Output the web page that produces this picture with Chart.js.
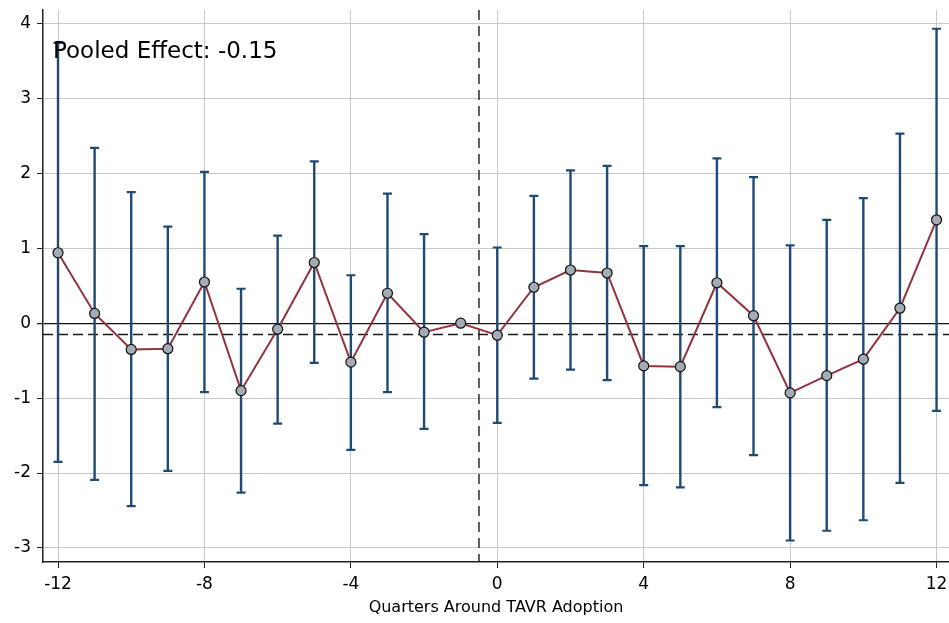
<!DOCTYPE html>
<html>
<head>
<meta charset="utf-8">
<script src="https://cdn.jsdelivr.net/npm/chart.js@4"></script>
<style>
  html, body { margin: 0; padding: 0; background: #fff; }
  #wrap { width: 949px; height: 623px; }
</style>
</head>
<body>
<div id="wrap"><canvas id="eventChart"></canvas></div>
<script>
// Quarters relative to adoption
const quarters = [-12, -11, -10, -9, -8, -7, -6, -5, -4, -3, -2, -1, 0, 1, 2, 3, 4, 5, 6, 7, 8, 9, 10, 11, 12];
// Point estimates
const estimates = [0.94, 0.13, -0.35, -0.34, 0.55, -0.90, -0.08, 0.81, -0.52, 0.40, -0.12, 0.00, -0.16,
                   0.48, 0.71, 0.67, -0.57, -0.58, 0.54, 0.10, -0.93, -0.70, -0.48, 0.20, 1.38];
// Confidence interval bounds (null = reference quarter)
const upperCI = [3.74, 2.34, 1.75, 1.29, 2.02, 0.46, 1.17, 2.16, 0.64, 1.73, 1.19, null, 1.01,
                 1.70, 2.04, 2.10, 1.03, 1.03, 2.20, 1.95, 1.04, 1.38, 1.67, 2.53, 3.93];
const lowerCI = [-1.85, -2.09, -2.44, -1.97, -0.92, -2.26, -1.34, -0.53, -1.69, -0.92, -1.41, null, -1.33,
                 -0.74, -0.62, -0.76, -2.16, -2.19, -1.12, -1.76, -2.90, -2.77, -2.63, -2.13, -1.17];
// Axis ticks
const xTicks = [-12, -8, -4, 0, 4, 8, 12];
const yTicks = [-3, -2, -1, 0, 1, 2, 3, 4];
// Reference lines
const pooledEffect = -0.15;
const adoptionLine = -0.5;

const FONT = "'DejaVu Sans', sans-serif";

// Error bars + dashed reference lines, drawn behind the series
const errorBarPlugin = {
    id: "errorBars",
    beforeDatasetsDraw(chart) {
        const ctx = chart.ctx;
        const xs = chart.scales.x;
        const ys = chart.scales.y;
        const area = chart.chartArea;
        ctx.save();
        ctx.beginPath();
        ctx.rect(area.left, area.top, area.right - area.left, area.bottom - area.top);
        ctx.clip();

        // dashed pooled-effect line
        ctx.strokeStyle = "#1a1a1a";
        ctx.lineWidth = 1.4;
        ctx.setLineDash([10, 5]);
        ctx.beginPath();
        const py = ys.getPixelForValue(pooledEffect);
        ctx.moveTo(area.left, py);
        ctx.lineTo(area.right, py);
        ctx.stroke();

        // dashed adoption line
        ctx.setLineDash([10, 6]);
        ctx.beginPath();
        const px = xs.getPixelForValue(adoptionLine);
        ctx.moveTo(px, area.top);
        ctx.lineTo(px, area.bottom);
        ctx.stroke();
        ctx.setLineDash([]);

        // confidence intervals
        ctx.strokeStyle = "#1f4a73";
        for (let i = 0; i < quarters.length; i++) {
            if (upperCI[i] === null) continue;
            const x = xs.getPixelForValue(quarters[i]);
            const yHi = ys.getPixelForValue(upperCI[i]);
            const yLo = ys.getPixelForValue(lowerCI[i]);
            ctx.lineWidth = 2.4;
            ctx.beginPath();
            ctx.moveTo(x, yHi);
            ctx.lineTo(x, yLo);
            ctx.stroke();
            ctx.lineWidth = 2.2;
            ctx.beginPath();
            ctx.moveTo(x - 4.5, yHi);
            ctx.lineTo(x + 4.5, yHi);
            ctx.moveTo(x - 4.5, yLo);
            ctx.lineTo(x + 4.5, yLo);
            ctx.stroke();
        }
        ctx.restore();
    }
};

// Annotation text
const labelPlugin = {
    id: "pooledLabel",
    afterDraw(chart) {
        const ctx = chart.ctx;
        ctx.save();
        ctx.font = "23px " + FONT;
        ctx.fillStyle = "#000";
        ctx.textBaseline = "alphabetic";
        ctx.fillText("Pooled Effect: " + pooledEffect.toFixed(2), 53, 58);
        ctx.restore();
    }
};

const chartData = {
    datasets: [{
        label: "Estimate",
        data: quarters.map((q, i) => ({ x: q, y: estimates[i] })),
        borderColor: "#93333d",
        borderWidth: 2,
        pointBackgroundColor: "#a3abb5",
        pointBorderColor: "#111",
        pointBorderWidth: 1.2,
        pointRadius: 5,
        showLine: true,
        tension: 0
    }]
};

const chartConfig = {
    type: "scatter",
    data: chartData,
    options: {
        responsive: true,
        maintainAspectRatio: false,
        animation: false,
        layout: {
            autoPadding: false,
            padding: { top: 10, right: 0, left: 0, bottom: 0 }
        },
        plugins: {
            legend: { display: false },
            tooltip: { enabled: false }
        },
        scales: {
            x: {
                type: "linear",
                min: -12.41,
                max: 12.34,
                afterBuildTicks: (axis) => { axis.ticks = xTicks.map(v => ({ value: v })); },
                afterFit: (axis) => {
                    axis.height = 61;
                    axis.paddingLeft = 0;
                    axis.paddingRight = 0;
                },
                ticks: {
                    color: "#000",
                    font: { family: FONT, size: 17 },
                    padding: 6,
                    maxRotation: 0,
                    callback: (v) => String(v)
                },
                grid: {
                    color: "#c8c8c8",
                    lineWidth: 1,
                    tickColor: "#222",
                    tickLength: 6
                },
                border: { color: "#222", width: 1.5 },
                title: {
                    display: true,
                    text: "Quarters Around TAVR Adoption",
                    color: "#000",
                    font: { family: FONT, size: 16 },
                    padding: { top: 0, bottom: 6 }
                }
            },
            y: {
                type: "linear",
                min: -3.187,
                max: 4.18,
                afterBuildTicks: (axis) => { axis.ticks = yTicks.map(v => ({ value: v })); },
                afterFit: (axis) => {
                    axis.width = 43;
                    axis.paddingTop = 0;
                    axis.paddingBottom = 0;
                },
                ticks: {
                    color: "#000",
                    font: { family: FONT, size: 17 },
                    padding: 6,
                    callback: (v) => String(v)
                },
                grid: {
                    color: (c) => (c.tick && c.tick.value === 0) ? "#111" : "#c8c8c8",
                    lineWidth: (c) => (c.tick && c.tick.value === 0) ? 1.3 : 1,
                    tickColor: "#222",
                    tickLength: 6
                },
                border: { color: "#222", width: 1.5 }
            }
        }
    },
    plugins: [errorBarPlugin, labelPlugin]
};

const eventChart = new Chart(document.getElementById("eventChart"), chartConfig);
</script>
</body>
</html>
